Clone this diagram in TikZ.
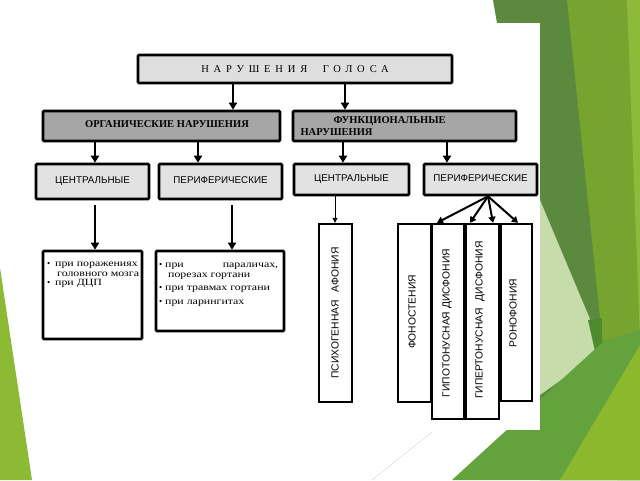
\documentclass[tikz,border=0pt]{standalone}
\usepackage{fontspec}
\setmainfont{Liberation Serif}
\newfontfamily\bulf[FakeStretch=1.25]{Liberation Serif}
\newfontfamily\titlef[LetterSpace=46]{Liberation Serif}
\newfontfamily\sansf{Liberation Sans}
\usetikzlibrary{arrows.meta,calc}
\definecolor{gD}{HTML}{5B8A3F}
\definecolor{gM}{HTML}{77A42E}
\definecolor{gR}{HTML}{8DBA3B}
\definecolor{gL}{HTML}{8CBA35}
\definecolor{gMed}{HTML}{64A23E}
\definecolor{gB}{HTML}{8BB82C}
\definecolor{gPale}{HTML}{C6DCAA}
\definecolor{gDark}{HTML}{4E8B2E}
\definecolor{fillA}{HTML}{DEDEDE}
\definecolor{fillB}{HTML}{A6A6A6}
\definecolor{fillC}{HTML}{E2E2E2}
\begin{document}
\begin{tikzpicture}[x=1pt,y=-1pt,
  box/.style={draw, line width=2.6pt, rounded corners=1pt, inner sep=0pt},
  vbox/.style={draw, line width=2.4pt, fill=white, inner sep=0pt},
  arr/.style={line width=2.4pt, -{Triangle[length=7pt,width=8pt]}},
  fanarr/.style={line width=2pt, -{Triangle[length=6pt,width=7pt]}},
  thinarr/.style={line width=0.9pt, -{Triangle[length=5pt,width=5pt]}},
  lbl/.style={font=\sansf\fontsize{9.8}{11}\selectfont},
  vtxt/.style={inner sep=0pt, font=\sansf\fontsize{10.3}{12}\selectfont},
  btxt/.style={inner sep=0pt, anchor=base west, font=\bulf\fontsize{9.5}{11}\selectfont},
  bul/.style={inner sep=0pt, anchor=base west, font=\fontsize{9}{11}\selectfont}]
\useasboundingbox (0,0) rectangle (640,480);
% background decoration
\fill[white] (0,0) rectangle (640,480);
\fill[gL] (0,268) -- (32,480) -- (0,480) -- cycle;
\fill[gD] (493,0) -- (640,0) -- (640,480) -- (540,480) -- (540,23) -- (497,23) -- cycle;
\fill[gM] (567,0) -- (640,0) -- (640,480) -- (617,480) -- cycle;
\fill[gR] (627,0) -- (640,0) -- (640,340) -- cycle;
\fill[gPale] (540,200) -- (603,350) -- (540,395) -- cycle;
\fill[gDark] (588,320) -- (602,318) -- (601,378) -- cycle;
\fill[gMed] (452,480) -- (605,340) -- (640,330) -- (640,480) -- cycle;
\fill[gB] (560,480) -- (640,345) -- (640,480) -- cycle;
\draw[gray!25, line width=0.6pt] (372,480) -- (432,432);
\fill[white] (40,23) rectangle (540,430);
% top level
\node[box, fill=fillA, minimum width=314pt, minimum height=28pt] (title) at (295,69)
  {\raisebox{-4pt}{\titlef\fontsize{10.5}{12}\selectfont НАРУШЕНИЯ\hspace{8pt} ГОЛОСА}};
\node[box, fill=fillB, minimum width=237pt, minimum height=30pt] (org) at (161.5,126)
  {\raisebox{4pt}{\hspace*{11pt}\bfseries\fontsize{10.5}{12}\selectfont ОРГАНИЧЕСКИЕ НАРУШЕНИЯ}};
\node[box, fill=fillB, minimum width=223pt, minimum height=30pt] (func) at (404.5,126)
  {\parbox{208pt}{\bfseries\fontsize{10.5}{12}\selectfont\hspace*{33pt}ФУНКЦИОНАЛЬНЫЕ\\НАРУШЕНИЯ}};
% third level
\node[box, fill=fillC, minimum width=113pt, minimum height=35pt, lbl] (cl) at (92.5,181.5) {\raisebox{3pt}{ЦЕНТРАЛЬНЫЕ}};
\node[box, fill=fillC, minimum width=123pt, minimum height=35pt, lbl] (pl) at (220.5,181.5) {\raisebox{3pt}{ПЕРИФЕРИЧЕСКИЕ}};
\node[box, fill=fillC, minimum width=115pt, minimum height=31pt, lbl] (cr) at (351.5,179.5) {\raisebox{2pt}{ЦЕНТРАЛЬНЫЕ}};
\node[box, fill=fillC, minimum width=113pt, minimum height=31pt, lbl] (pr) at (480.5,179.5) {\raisebox{2pt}{ПЕРИФЕРИЧЕСКИЕ}};
% bottom left boxes
\node[box, fill=white, minimum width=99pt, minimum height=88pt] (b1) at (92.5,295) {};
\node[box, fill=white, minimum width=128pt, minimum height=80pt] (b2) at (220,291) {};
\node[bul] (b1a) at (47,266) {•};
\node[btxt] (b1b) at (55,266) {при поражениях};
\node[btxt] (b1c) at (57,276) {головного мозга};
\node[bul] (b1d) at (47,285.5) {•};
\node[btxt] (b1e) at (55,285.5) {при ДЦП};
\node[bul] (b2a) at (159,267) {•};
\node[btxt] (b2b) at (165,267) {\makebox[113pt][s]{при\hfill параличах,}};
\node[btxt] (b2c) at (168,277) {порезах гортани};
\node[bul] (b2d) at (159,290) {•};
\node[btxt] (b2e) at (165,290) {при травмах гортани};
\node[bul] (b2f) at (159,304) {•};
\node[btxt] (b2g) at (165,304) {при ларингитах};
% vertical boxes
\node[vbox, minimum width=33pt, minimum height=178pt] (psy) at (335.5,313) {};
\node[vtxt] (psyt) at (335,313) {\rotatebox{90}{ПСИХОГЕННАЯ\hspace{5pt} АФОНИЯ}};
\node[vbox, minimum width=33pt, minimum height=178pt] (fono) at (414.5,313) {};
\node[vtxt] (fonot) at (412,312) {\rotatebox{90}{ФОНОСТЕНИЯ}};
\node[vbox, minimum width=32pt, minimum height=195pt] (hypo) at (448,321.5) {};
\node[vtxt] (hypot) at (447,323) {\rotatebox{90}{ГИПОТОНУСНАЯ ДИСФОНИЯ}};
\node[vbox, minimum width=33pt, minimum height=195pt] (hyper) at (482.5,321.5) {};
\node[vtxt] (hypert) at (480,320) {\rotatebox{90}{ГИПЕРТОНУСНАЯ\hspace{4pt} ДИСФОНИЯ}};
\node[vbox, minimum width=31pt, minimum height=177pt] (rono) at (516.5,312.5) {};
\node[vtxt] (ronot) at (513,313) {\rotatebox{90}{РОНОФОНИЯ}};
% connectors
\draw[arr] ($(title.south)+(-62,0)$) -- ($(org.north)+(71.5,0)$);
\draw[arr] ($(title.south)+(50,0)$) -- ($(func.north)+(-59.5,0)$);
\draw[arr] ($(org.south)+(-66.5,0)$) -- ($(cl.north)+(2.5,0)$);
\draw[arr] ($(org.south)+(36.5,0)$) -- ($(pl.north)+(-22.5,0)$);
\draw[arr] ($(func.south)+(-61.5,0)$) -- ($(cr.north)+(-8.5,0)$);
\draw[arr] ($(func.south)+(42.5,0)$) -- ($(pr.north)+(-33.5,0)$);
\draw[arr, shorten <=5pt] ($(cl.south)+(2.5,0)$) -- ($(b1.north)+(2.5,0)$);
\draw[arr, shorten <=5pt] ($(pl.south)+(11.5,0)$) -- ($(b2.north)+(12,0)$);
\draw[thinarr] ($(cr.south)+(-16.5,0)$) -- ($(psy.north)+(-0.5,0)$);
\coordinate (fan) at ($(pr.south)+(7.5,0)$);
\draw[fanarr] (fan) -- ($(hypo.north)+(-11,0)$);
\draw[fanarr] (fan) -- ($(hyper.north)+(-12.5,0)$);
\draw[fanarr] (fan) -- ($(hyper.north)+(10.5,0)$);
\draw[fanarr] (fan) -- ($(rono.north)+(1.5,0)$);
\end{tikzpicture}
\end{document}
